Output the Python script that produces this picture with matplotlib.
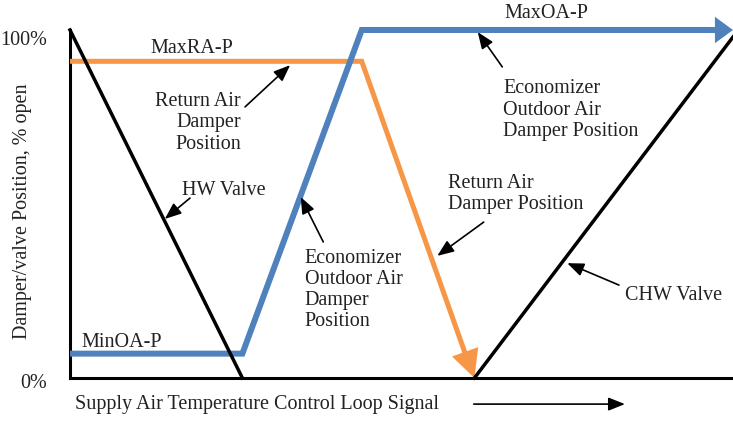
import matplotlib.pyplot as plt

plt.rcParams['font.family'] = ['Liberation Serif', 'DejaVu Serif']

# loop signal (% of span) vs. damper / valve position (% open)
hw_x = [0, 26]
hw_y = [100, 0]
oa_x = [0, 26, 44, 100]
oa_y = [7, 7, 100, 100]
ra_x = [0, 44, 61]
ra_y = [91, 91, 0]
chw_x = [61, 100]
chw_y = [0, 98]

BLUE = '#4f81bd'
ORANGE = '#f79646'
TXT = '#222222'
FS = 14.5

fig = plt.figure(figsize=(7.33, 4.21), dpi=100)
ax = fig.add_axes([70/733, 43/421, 663/733, 348/421])
ax.set_xlim(0, 100)
ax.set_ylim(0, 100)
for s in ['top', 'right']:
    ax.spines[s].set_visible(False)
for s in ['left', 'bottom']:
    ax.spines[s].set_linewidth(2.2)
    ax.spines[s].set_color('black')
ax.set_xticks([])
ax.set_yticks([])

# valves
ax.plot(hw_x, hw_y, color='black', lw=2.5, zorder=5, clip_on=False)
ax.plot(chw_x, chw_y, color='black', lw=2.5, zorder=5, clip_on=False)

# return air damper with arrow at the end
ax.plot(ra_x[:-1] + [ra_x[-1] - 1.2], ra_y[:-1] + [ra_y[-1] + 6], color=ORANGE,
        lw=3.6, zorder=3, clip_on=False, solid_joinstyle='miter',
        solid_capstyle='butt')
ax.annotate('', xy=(ra_x[-1], ra_y[-1]), xytext=(ra_x[-2], ra_y[-2]),
            arrowprops=dict(arrowstyle='-|>,head_length=2.0,head_width=1.0',
                            color=ORANGE, lw=0, shrinkA=0, shrinkB=0),
            zorder=3, annotation_clip=False)

# outdoor air damper with arrow at the end
ax.plot(oa_x[:-1] + [oa_x[-1] - 2], oa_y[:-1] + [oa_y[-1]], color=BLUE,
        lw=4.3, zorder=4, clip_on=False, solid_joinstyle='miter',
        solid_capstyle='butt')
ax.annotate('', xy=(oa_x[-1], oa_y[-1]), xytext=(oa_x[-2], oa_y[-2]),
            arrowprops=dict(arrowstyle='-|>,head_length=1.3,head_width=0.95',
                            color=BLUE, lw=0, shrinkA=0, shrinkB=0),
            zorder=4, annotation_clip=False)

arrow = dict(arrowstyle='-|>,head_length=1.0,head_width=0.4',
             color='black', lw=1.2, shrinkA=0, shrinkB=0)

# axis labels
ax.text(-3.5, 97, '100%', ha='right', va='center', fontsize=FS, color=TXT)
ax.text(-3.5, -1.5, '0%', ha='right', va='center', fontsize=FS, color=TXT)
ax.text(-7.2, 48, 'Damper/valve Position, % open', rotation=90,
        ha='center', va='center', fontsize=FS, color=TXT)
ax.text(0.75, -7.5, 'Supply Air Temperature Control Loop Signal',
        ha='left', va='center', fontsize=FS, color=TXT, clip_on=False)
ax.annotate('', xy=(83.7, -7.5), xytext=(60.9, -7.5), annotation_clip=False,
            arrowprops=arrow)

# curve labels and pointers
ax.text(18.4, 94.8, 'MaxRA-P', ha='center', va='center', fontsize=FS, color=TXT)
ax.text(1.8, 10.1, 'MinOA-P', ha='left', va='center', fontsize=FS, color=TXT)
ax.text(71.9, 104.6, 'MaxOA-P', ha='center', va='center', fontsize=FS,
        color=TXT, clip_on=False)

notes = [
    ('Return Air\nDamper\nPosition', 25.8, 73.3, 'right',
     (33.2, 89.9), (26.4, 77.9)),
    ('HW Valve', 16.9, 54.0, 'left', (14.3, 45.7), (18.1, 51.7)),
    ('Economizer\nOutdoor Air\nDamper\nPosition', 35.4, 25.3, 'left',
     (34.8, 52.0), (38.2, 39.1)),
    ('Economizer\nOutdoor Air\nDamper Position', 65.3, 77.0, 'left',
     (61.5, 99.4), (65.2, 89.4)),
    ('Return Air\nDamper Position', 57.0, 53.0, 'left',
     (55.4, 35.1), (62.4, 44.8)),
    ('CHW Valve', 83.7, 23.6, 'left', (75.0, 33.0), (82.8, 26.7)),
]
for txt, tx, ty, ha, head, tail in notes:
    ax.text(tx, ty, txt, ha=ha, va='center', multialignment=ha,
            linespacing=1.15, fontsize=FS, color=TXT)
    ax.annotate('', xy=head, xytext=tail, zorder=6, arrowprops=arrow)

fig.savefig('out.png', dpi=100)
